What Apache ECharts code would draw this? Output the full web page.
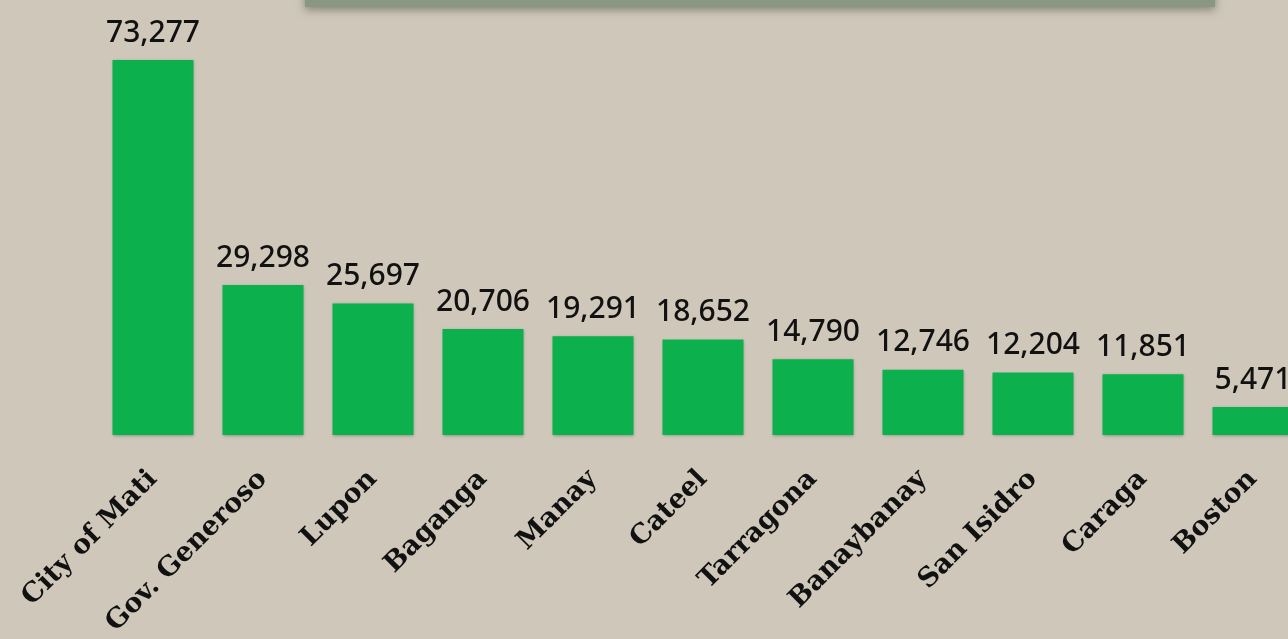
<!DOCTYPE html>
<html>
<head>
<meta charset="utf-8">
<script src="https://cdn.jsdelivr.net/npm/echarts@6/dist/echarts.min.js"></script>
<style>
html,body{margin:0;padding:0;background:#cfc8ba;overflow:hidden;width:1288px;height:639px;}
#chart{width:1330px;height:639px;}
</style>
</head>
<body>
<div id="chart"></div>
<script>
const categories = ["City of Mati","Gov. Generoso","Lupon","Baganga","Manay","Cateel","Tarragona","Banaybanay","San Isidro","Caraga","Boston"];
const values = [73277,29298,25697,20706,19291,18652,14790,12746,12204,11851,5471];

const chart = echarts.init(document.getElementById('chart'));
chart.setOption({
  backgroundColor: '#cfc8ba',
  animation: false,
  graphic: [{
    type: 'rect',
    shape: {x: 305, y: -20, width: 910, height: 27},
    style: {fill: '#8a9883', shadowBlur: 8, shadowColor: 'rgba(60,70,55,0.5)', shadowOffsetY: 3}
  }],
  grid: {left: 98, width: 1210, top: 25.6, bottom: 204, containLabel: false},
  xAxis: {
    type: 'category',
    data: categories,
    axisLine: {show: false},
    axisTick: {show: false},
    axisLabel: {
      interval: 0,
      rotate: 45,
      margin: 40,
      fontFamily: 'DejaVu Serif',
      fontWeight: 'bold',
      fontSize: 27,
      color: '#111'
    }
  },
  yAxis: {
    type: 'value',
    min: 0,
    max: 80000,
    show: false,
    splitLine: {show: false}
  },
  series: [{
    type: 'bar',
    data: values,
    barWidth: 81,
    itemStyle: {color: '#0cb04c', shadowColor: 'rgba(0,60,20,0.35)', shadowBlur: 3, shadowOffsetY: 1},
    label: {
      show: true,
      position: 'top',
      distance: 12,
      fontFamily: 'Noto Sans',
      fontWeight: 500,
      fontSize: 30,
      color: '#111',
      formatter: p => p.value.toLocaleString('en-US')
    }
  }]
});
</script>
</body>
</html>
